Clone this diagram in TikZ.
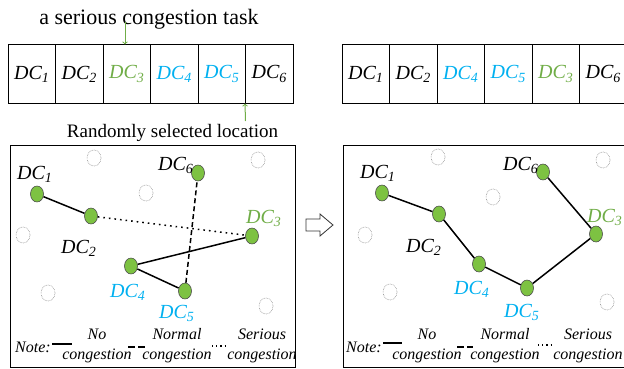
\documentclass[tikz,border=0pt]{standalone}
\usepackage{fontspec}
\setmainfont{Liberation Serif}
\usetikzlibrary{shapes.geometric,positioning}
\definecolor{dcgreen}{HTML}{70AD47}
\definecolor{dcblue}{HTML}{00B0F0}
\definecolor{nodegreen}{HTML}{7DC242}
\newcommand{\dcn}[1]{DC\textsubscript{#1}}

\begin{document}
\begin{tikzpicture}[
    x=1pt, y=-1pt,
    node distance=47.5pt,
    box/.style={rectangle, draw, line width=1pt, minimum width=47.5pt, minimum height=58pt, inner sep=0pt, font=\fontsize{20}{20}\selectfont\itshape},
    dc/.style={ellipse, draw=black!70, line width=0.6pt, fill=nodegreen, minimum width=13pt, minimum height=16pt, inner sep=0pt},
    spare/.style={ellipse, draw=gray, line width=0.6pt, densely dotted, minimum width=14pt, minimum height=16pt, inner sep=0pt},
    lbl/.style={anchor=base west, inner sep=0pt, font=\fontsize{20}{20}\selectfont\itshape},
    note/.style={anchor=base, inner sep=0pt, font=\fontsize{16}{16}\selectfont\itshape},
    link/.style={line width=1.5pt},
    garrow/.style={->, dcgreen, line width=1pt}
]
\useasboundingbox (0,0) rectangle (624,369);

% task order before
\node[box] (a1) at (31.75,74) {\dcn{1}};
\node[box, right of=a1] (a2) {\dcn{2}};
\node[box, right of=a2, text=dcgreen] (a3) {\dcn{3}};
\node[box, right of=a3, text=dcblue] (a4) {\dcn{4}};
\node[box, right of=a4, text=dcblue] (a5) {\dcn{5}};
\node[box, right of=a5] (a6) {\dcn{6}};

\node[anchor=base, inner sep=0pt, font=\fontsize{22}{22}\selectfont] (task) at (149,25) {a serious congestion task};
\node[anchor=base, inner sep=0pt, font=\fontsize{19}{19}\selectfont] (sel) at (172.5,137) {Randomly selected location};
\coordinate (t1) at (125,22);
\coordinate (t2) at (245.5,121);
\draw[garrow] (t1) -- (t1 |- a3.north);
\draw[garrow] (t2) -- (a6.south west);

% task order after
\node[box] (b1) at (365.75,74) {\dcn{1}};
\node[box, right of=b1] (b2) {\dcn{2}};
\node[box, right of=b2, text=dcblue] (b3) {\dcn{4}};
\node[box, right of=b3, text=dcblue] (b4) {\dcn{5}};
\node[box, right of=b4, text=dcgreen] (b5) {\dcn{3}};
\node[box, right of=b5] (b6) {\dcn{6}};

% left panel
\draw[line width=1pt] (10,145) rectangle (295,367);
\foreach \p in {(94,158),(146,193),(23,235),(48,293),(258,160),(266,306)}
    \node[spare] at \p {};
\node[dc] (u1) at (37,194) {};
\node[dc] (u2) at (91,216) {};
\node[dc] (u3) at (252,236) {};
\node[dc] (u4) at (131,266) {};
\node[dc] (u5) at (185,291) {};
\node[dc] (u6) at (198,173) {};
\node[lbl] (ul1) at (17,179) {\dcn{1}};
\node[lbl] (ul2) at (61,253) {\dcn{2}};
\node[lbl, text=dcgreen] (ul3) at (246,223) {\dcn{3}};
\node[lbl, text=dcblue] (ul4) at (110,297) {\dcn{4}};
\node[lbl, text=dcblue] (ul5) at (159,318) {\dcn{5}};
\node[lbl] (ul6) at (158,170) {\dcn{6}};
\draw[link] (u1) -- (u2);
\draw[link, dash pattern=on 1.6pt off 4pt] (u2) -- (u3);
\draw[link] (u3) -- (u4);
\draw[link] (u4) -- (u5);
\draw[link, dash pattern=on 5pt off 3pt] (u5) -- (u6);

\node[note, anchor=base west] (un) at (15,352) {Note:};
\draw[line width=1.6pt] (52,344) -- (72,344);
\node[note] (un1) at (97,339) {No};
\node[note] (uc1) at (97,359) {congestion};
\draw[line width=1.6pt, dash pattern=on 7pt off 3pt] (128,347) -- (147,347);
\node[note] (un2) at (177,339) {Normal};
\node[note] (uc2) at (177,359) {congestion};
\draw[line width=1.2pt, dash pattern=on 1.2pt off 3pt] (212,346) -- (225,346);
\node[note] (un3) at (262,339) {Serious};
\node[note] (uc3) at (262,359) {congestion};

% arrow between panels
\draw[draw=black!80, line width=0.8pt, fill=white, line join=miter]
    (306,219) -- (320,219) -- (320,214) -- (333,225) -- (320,236) -- (320,231) -- (306,231) -- cycle;

% right panel
\draw[line width=1pt] (343,145) rectangle (630,367);
\foreach \p in {(438,157),(493,197),(365,235),(390,292),(603,160),(607,302)}
    \node[spare] at \p {};
\node[dc] (v1) at (382,193) {};
\node[dc] (v2) at (439,214) {};
\node[dc] (v3) at (596,234) {};
\node[dc] (v4) at (479,264) {};
\node[dc] (v5) at (527,288) {};
\node[dc] (v6) at (543,172) {};
\node[lbl] (vl1) at (360,178) {\dcn{1}};
\node[lbl] (vl2) at (406,252) {\dcn{2}};
\node[lbl, text=dcgreen] (vl3) at (587,222) {\dcn{3}};
\node[lbl, text=dcblue] (vl4) at (454,294) {\dcn{4}};
\node[lbl, text=dcblue] (vl5) at (504,317) {\dcn{5}};
\node[lbl] (vl6) at (503,170) {\dcn{6}};
\draw[link] (v1) -- (v2) -- (v4) -- (v5) -- (v3) -- (v6);

\node[note, anchor=base west] (vn) at (346,352) {Note:};
\draw[line width=1.6pt] (383,343) -- (402,343);
\node[note] (vn1) at (427,339) {No};
\node[note] (vc1) at (427,359) {congestion};
\draw[line width=1.6pt, dash pattern=on 7pt off 3pt] (457,347) -- (473,347);
\node[note] (vn2) at (505,339) {Normal};
\node[note] (vc2) at (505,359) {congestion};
\draw[line width=1.2pt, dash pattern=on 1.2pt off 3pt] (538,345) -- (553,345);
\node[note] (vn3) at (588,339) {Serious};
\node[note] (vc3) at (588,359) {congestion};

\end{tikzpicture}
\end{document}
